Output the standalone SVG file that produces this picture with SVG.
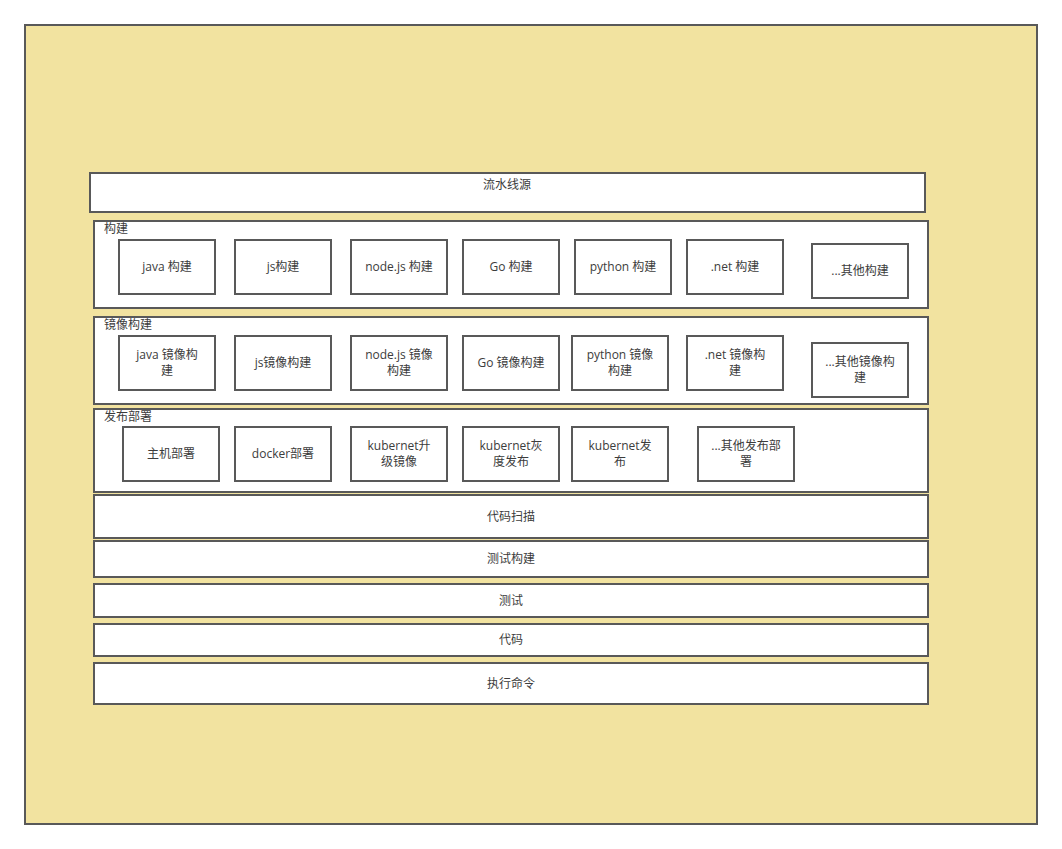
<svg xmlns="http://www.w3.org/2000/svg" width="1062" height="849" viewBox="0 0 1062 849">
<style>
rect{stroke:#595959;stroke-width:2}
.bg{fill:#f2e3a0}
.w{fill:#ffffff}
text{font-family:"Open Sans","Noto Sans CJK SC",sans-serif;font-size:12px;fill:#3c3c3c}
.c{text-anchor:middle}
</style>
<rect width="1062" height="849" fill="#ffffff" style="stroke:none"/>
<g id="container"><rect class="bg" x="25" y="25" width="1012" height="799"/></g>
<g id="source"><rect class="w" x="90" y="173" width="835" height="39"/><text class="c" x="507" y="189">流水线源</text></g>
<g id="build">
<rect class="w" x="94" y="221" width="834" height="87"/><text x="104" y="233">构建</text>
<g id="b-java"><rect class="w" x="119" y="240" width="96" height="54"/><text class="c" x="167" y="271">java 构建</text></g>
<g id="b-js"><rect class="w" x="235" y="240" width="96" height="54"/><text class="c" x="283" y="271">js构建</text></g>
<g id="b-node"><rect class="w" x="351" y="240" width="96" height="54"/><text class="c" x="399" y="271">node.js 构建</text></g>
<g id="b-go"><rect class="w" x="463" y="240" width="96" height="54"/><text class="c" x="511" y="271">Go 构建</text></g>
<g id="b-py"><rect class="w" x="575" y="240" width="96" height="54"/><text class="c" x="623" y="271">python 构建</text></g>
<g id="b-net"><rect class="w" x="687" y="240" width="96" height="54"/><text class="c" x="735" y="271">.net 构建</text></g>
<g id="b-other"><rect class="w" x="812" y="244" width="96" height="54"/><text class="c" x="860" y="275">...其他构建</text></g>
</g>
<g id="image">
<rect class="w" x="94" y="317" width="834" height="87"/><text x="104" y="329">镜像构建</text>
<g id="i-java"><rect class="w" x="119" y="336" width="96" height="54"/><text class="c" x="167" y="359">java 镜像构</text><text class="c" x="167" y="375">建</text></g>
<g id="i-js"><rect class="w" x="235" y="336" width="96" height="54"/><text class="c" x="283" y="367">js镜像构建</text></g>
<g id="i-node"><rect class="w" x="351" y="336" width="96" height="54"/><text class="c" x="399" y="359">node.js 镜像</text><text class="c" x="399" y="375">构建</text></g>
<g id="i-go"><rect class="w" x="463" y="336" width="96" height="54"/><text class="c" x="511" y="367">Go 镜像构建</text></g>
<g id="i-py"><rect class="w" x="572" y="336" width="96" height="54"/><text class="c" x="620" y="359">python 镜像</text><text class="c" x="620" y="375">构建</text></g>
<g id="i-net"><rect class="w" x="687" y="336" width="96" height="54"/><text class="c" x="735" y="359">.net 镜像构</text><text class="c" x="735" y="375">建</text></g>
<g id="i-other"><rect class="w" x="812" y="343" width="96" height="54"/><text class="c" x="860" y="366">...其他镜像构</text><text class="c" x="860" y="382">建</text></g>
</g>
<g id="deploy">
<rect class="w" x="94" y="409" width="834" height="83"/><text x="104" y="421">发布部署</text>
<g id="d-host"><rect class="w" x="123" y="427" width="96" height="54"/><text class="c" x="171" y="458">主机部署</text></g>
<g id="d-docker"><rect class="w" x="235" y="427" width="96" height="54"/><text class="c" x="283" y="458">docker部署</text></g>
<g id="d-k8sup"><rect class="w" x="351" y="427" width="96" height="54"/><text class="c" x="399" y="450">kubernet升</text><text class="c" x="399" y="466">级镜像</text></g>
<g id="d-k8sgray"><rect class="w" x="463" y="427" width="96" height="54"/><text class="c" x="511" y="450">kubernet灰</text><text class="c" x="511" y="466">度发布</text></g>
<g id="d-k8s"><rect class="w" x="572" y="427" width="96" height="54"/><text class="c" x="620" y="450">kubernet发</text><text class="c" x="620" y="466">布</text></g>
<g id="d-other"><rect class="w" x="698" y="427" width="96" height="54"/><text class="c" x="746" y="450">...其他发布部</text><text class="c" x="746" y="466">署</text></g>
</g>
<g id="scan"><rect class="w" x="94" y="495" width="834" height="43"/><text class="c" x="511" y="521">代码扫描</text></g>
<g id="testbuild"><rect class="w" x="94" y="541" width="834" height="36"/><text class="c" x="511" y="563">测试构建</text></g>
<g id="test"><rect class="w" x="94" y="584" width="834" height="33"/><text class="c" x="511" y="605">测试</text></g>
<g id="code"><rect class="w" x="94" y="624" width="834" height="32"/><text class="c" x="511" y="644">代码</text></g>
<g id="exec"><rect class="w" x="94" y="663" width="834" height="41"/><text class="c" x="511" y="688">执行命令</text></g>
<g id="connectors"/>
</svg>
